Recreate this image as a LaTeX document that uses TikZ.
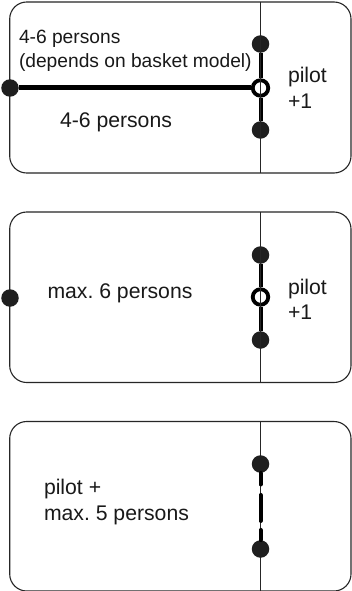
\documentclass[tikz,border=0pt]{standalone}
\usepackage{fontspec}
\setmainfont{Liberation Sans}
\tikzset{
  panel/.style={draw=black!85,line width=1.1bp,rounded corners=17bp},
  divider/.style={draw=black!85,line width=1bp},
  dot/.style={circle,fill=black!88,draw=none,minimum size=17.5bp,inner sep=0pt},
  ring/.style={circle,fill=white,draw=black,line width=3.8bp,minimum size=15.5bp,inner sep=0pt},
  link/.style={draw=black,line width=4bp},
  linkh/.style={draw=black,line width=5bp},
  broken/.style={draw=black,line width=4bp,line cap=round,dash pattern=on 11.5bp off 10.5bp on 26bp off 9bp on 11bp},
  label/.style={anchor=base west,inner sep=0pt,outer sep=0pt,font=\fontsize{21.2bp}{24bp}\selectfont\frenchspacing,text=black!90},
  smalllabel/.style={label,font=\fontsize{19.2bp}{22bp}\selectfont}
}
\begin{document}
\begin{tikzpicture}[x=1bp,y=-1bp]
\useasboundingbox (0,0) rectangle (351,591);
\fill[white] (0,0) rectangle (351,591);
% panel 1
\draw[panel] (9.7,2) rectangle (351,173);
\coordinate (t1) at (260.5,2);
\coordinate (b1) at (260.5,173);
\node[dot] (a1) at (260.5,44) {};
\node[dot] (c1) at (260.5,130) {};
\node[dot] (l1) at (10,88) {};
\node[ring] (r1) at (260.5,88) {};
\draw[link] (a1) -- (r1);
\draw[link] (r1) -- (c1);
\draw[linkh] (l1) -- (r1);
\draw[divider] (t1) -- (b1);
\node[smalllabel] (n1) at (19,44) {4-6 persons};
\node[smalllabel] (n2) at (19,68) {(depends on basket model)};
\node[label] (n3) at (60,128) {4-6 persons};
\node[label] (n4) at (288,83) {pilot};
\node[label] (n5) at (288,108.5) {+1};
% panel 2
\draw[panel] (9.7,212) rectangle (351,382.5);
\coordinate (t2) at (260.5,212);
\coordinate (b2) at (260.5,382.5);
\node[dot] (a2) at (260.5,255) {};
\node[dot] (c2) at (260.5,340) {};
\node[dot] (l2) at (10,298) {};
\node[ring] (r2) at (260.5,297) {};
\draw[link] (a2) -- (r2);
\draw[link] (r2) -- (c2);
\draw[divider] (t2) -- (b2);
\node[label] (n6) at (47.5,298) {max. 6 persons};
\node[label] (n7) at (288,294) {pilot};
\node[label] (n8) at (288,319) {+1};
% panel 3
\draw[panel] (9.7,421.5) rectangle (351,591);
\coordinate (t3) at (260.5,421.5);
\coordinate (b3) at (260.5,591);
\draw[divider] (t3) -- (b3);
\node[dot] (a3) at (260.5,464) {};
\node[dot] (c3) at (260.5,549) {};
\draw[broken] (a3) -- (c3);
\node[label] (n9) at (44,494) {pilot +};
\node[label] (n10) at (44,520) {max. 5 persons};
\end{tikzpicture}
\end{document}
